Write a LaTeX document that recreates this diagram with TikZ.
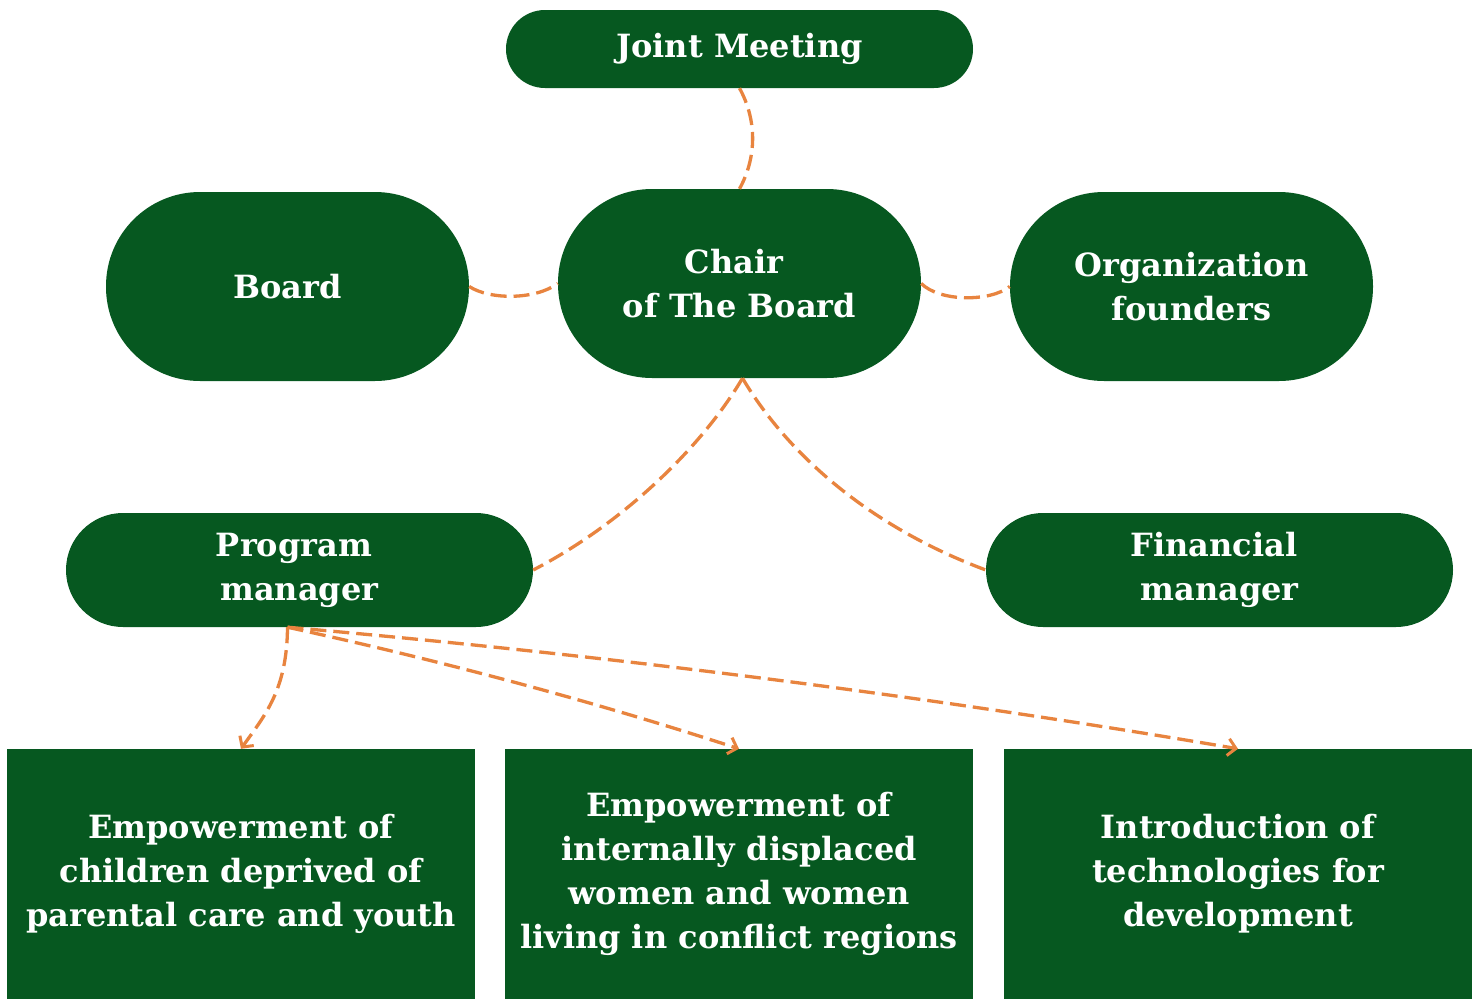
\documentclass[tikz,border=0pt]{standalone}
\usepackage{fontspec}
\setmainfont{DejaVu Serif}
\usetikzlibrary{arrows.meta}
\definecolor{dgreen}{RGB}{6,88,32}
\definecolor{lorange}{RGB}{232,132,63}
\begin{document}
\begin{tikzpicture}[x=1pt,y=-1pt,
  lbl/.style={fill=dgreen,text=white,font=\fontsize{32}{44}\selectfont\bfseries,align=center,inner sep=0pt},
  pillA/.style={lbl,minimum width=467pt,minimum height=78pt,rounded corners=39pt},
  pillB/.style={lbl,minimum width=363pt,minimum height=189pt,rounded corners=94pt},
  pillC/.style={lbl,minimum width=467pt,minimum height=114pt,rounded corners=57pt},
  areabox/.style={lbl,minimum width=468pt,minimum height=250pt},
  link/.style={draw=lorange,line width=3.3pt,dash pattern=on 16pt off 7pt},
  arr/.style={link,-{Straight Barb[length=8pt,width=17pt,line width=3pt]}}]
\useasboundingbox (0,0) rectangle (1484,999);
\fill[white] (0,0) rectangle (1484,999);

\node[pillA] (jm) at (739.5,49) {Joint Meeting};
\node[pillB] (board) at (287.5,286.5) {Board};
\node[pillB] (chair) at (739.5,283.5) {Chair\kern11pt\\of The Board};
\node[pillB] (org) at (1191.5,286.5) {Organization\\founders};
\node[pillC] (pm) at (299.5,570) {Program\kern11pt\\manager};
\node[pillC] (fm) at (1219.5,570) {Financial\kern11pt\\manager};
\node[areabox] (b1) at (241,874) {Empowerment of\\children deprived of\\parental care and youth};
\node[areabox] (b2) at (739,874) {Empowerment of\\internally displaced\\women and women\\living in conflict regions};
\node[areabox] (b3) at (1238,874) {Introduction of\\technologies for\\development};

\draw[link] (jm.south) .. controls (757,120) and (757,157) .. (chair.north);
\draw[link] (board.east) .. controls (490,300) and (535,300) .. (chair.west);
\draw[link] (chair.east) .. controls (940,302) and (990,302) .. (org.west);
\draw[link] ([xshift=3pt]chair.south) .. controls (700,450) and (620,525) .. (pm.east);
\draw[link] ([xshift=3pt]chair.south) .. controls (785,450) and (865,525) .. (fm.west);
\draw[arr] ([xshift=-12pt]pm.south) .. controls (287,690) and (265,715) .. (b1.north);
\draw[arr] ([xshift=-12pt]pm.south) .. controls (438,660) and (589,700) .. (b2.north);
\draw[arr] ([xshift=-12pt]pm.south) .. controls (604,655) and (921,695) .. (b3.north);
\end{tikzpicture}
\end{document}
